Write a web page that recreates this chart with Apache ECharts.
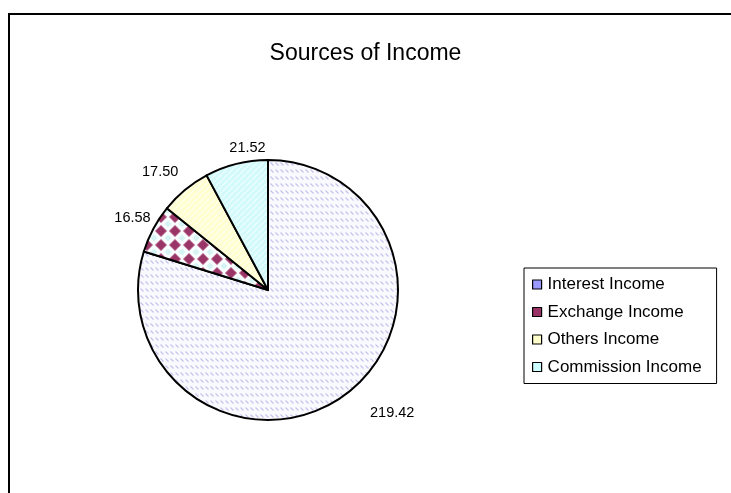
<!DOCTYPE html>
<html>
<head>
<meta charset="utf-8">
<title>Sources of Income</title>
<script src="https://cdn.jsdelivr.net/npm/echarts@6/dist/echarts.min.js"></script>
<style>
  html, body { margin: 0; padding: 0; background: #fff; }
  #chart { width: 731px; height: 493px; }
</style>
</head>
<body>
<div id="chart"></div>
<script>
// Income sources and amounts
const categories = ['Interest Income', 'Exchange Income', 'Others Income', 'Commission Income'];
const values = [219.42, 16.58, 17.50, 21.52];

// Solid swatch colours used by the legend
const swatchColors = ['#9999ff', '#993366', '#ffffcc', '#ccffff'];

// Extra pixel shift applied to each value label after the radial placement
const labelNudge = [[28, 4], [4, -3], [-7, -4], [18, 1]];

function tile(w, h, draw) {
  const c = document.createElement('canvas');
  c.width = w; c.height = h;
  const ctx = c.getContext('2d');
  draw(ctx, w, h);
  return c;
}

function diamond(ctx, x, y, r) {
  ctx.beginPath();
  ctx.moveTo(x, y - r); ctx.lineTo(x + r, y);
  ctx.lineTo(x, y + r); ctx.lineTo(x - r, y); ctx.closePath(); ctx.fill();
}

// Fill patterns for the slices
const patterns = [
  // rows of short "\" dashes in lavender
  tile(5, 7, function (ctx, w, h) {
    ctx.fillStyle = '#fafafe'; ctx.fillRect(0, 0, w, h);
    ctx.strokeStyle = '#c2c2ec'; ctx.lineWidth = 1.1;
    ctx.beginPath(); ctx.moveTo(0.5, 1.5); ctx.lineTo(3.5, 4.5); ctx.stroke();
  }),
  // maroon diamonds on white with pale cyan between
  tile(14, 14, function (ctx, w, h) {
    ctx.fillStyle = '#f8fdfd'; ctx.fillRect(0, 0, w, h);
    ctx.fillStyle = '#d6f3f3';
    [[0, 0], [w, 0], [0, h], [w, h]].forEach(function (p) { diamond(ctx, p[0], p[1], 3.5); });
    ctx.fillStyle = '#c98aa6';
    diamond(ctx, 7, 7, 6.3);
    ctx.fillStyle = '#9a3567';
    diamond(ctx, 7, 7, 5.2);
  }),
  // pale yellow with faint "/" stripes
  tile(6, 6, function (ctx, w, h) {
    ctx.fillStyle = '#ffffcf'; ctx.fillRect(0, 0, w, h);
    ctx.strokeStyle = '#ffffec'; ctx.lineWidth = 1.5;
    ctx.beginPath(); ctx.moveTo(-1, 7); ctx.lineTo(7, -1); ctx.stroke();
  }),
  // pale cyan with faint "/" stripes
  tile(6, 6, function (ctx, w, h) {
    ctx.fillStyle = '#d2fafa'; ctx.fillRect(0, 0, w, h);
    ctx.strokeStyle = '#ebfdfd'; ctx.lineWidth = 1.5;
    ctx.beginPath(); ctx.moveTo(-1, 7); ctx.lineTo(7, -1); ctx.stroke();
  })
];

const chart = echarts.init(document.getElementById('chart'), null, { renderer: 'canvas' });

const FONT = '"Liberation Sans", Arial, Helvetica, sans-serif';

chart.setOption({
  animation: false,
  backgroundColor: '#ffffff',
  title: {
    text: 'Sources of Income',
    left: 'center',
    top: 37,
    textStyle: { fontFamily: FONT, fontSize: 23, fontWeight: 'normal', color: '#000' }
  },
  graphic: [{
    type: 'rect',
    shape: { x: 9, y: 14, width: 760, height: 520 },
    style: { fill: null, stroke: '#000', lineWidth: 2 },
    silent: true,
    z: 100
  }],
  legend: {
    orient: 'vertical',
    left: 524,
    top: 268,
    padding: [8, 15, 8, 8],
    itemGap: 10.5,
    itemWidth: 9,
    itemHeight: 9,
    icon: 'rect',
    borderColor: '#000',
    borderWidth: 1,
    selectedMode: false,
    textStyle: { fontFamily: FONT, fontSize: 17, color: '#000', padding: [0, 0, 0, 1] },
    data: categories.map(function (name, i) {
      return { name: name, itemStyle: { color: swatchColors[i], borderColor: '#000', borderWidth: 1.2 } };
    })
  },
  series: [{
    type: 'pie',
    center: [268, 290],
    radius: 130,
    startAngle: 90,
    clockwise: true,
    avoidLabelOverlap: false,
    emphasis: { disabled: true },
    itemStyle: { borderColor: '#000', borderWidth: 2 },
    label: {
      show: true,
      position: 'outside',
      formatter: function (p) { return p.value.toFixed(2); },
      fontFamily: FONT,
      fontSize: 14.5,
      color: '#000'
    },
    labelLine: { show: true, length: 10, length2: 0, lineStyle: { opacity: 0 } },
    labelLayout: function (p) {
      const pts = p.labelLinePoints;
      if (!pts) return {};
      const a = pts[0], b = pts[1];
      const dx = b[0] - a[0], dy = b[1] - a[1];
      const len = Math.hypot(dx, dy) || 1;
      const ux = dx / len, uy = dy / len;
      const w = p.labelRect.width, h = p.labelRect.height;
      const n = labelNudge[p.dataIndex] || [0, 0];
      return {
        x: b[0] + ux * w / 2 + n[0],
        y: b[1] + uy * h / 2 + n[1],
        align: 'center',
        verticalAlign: 'middle'
      };
    },
    data: categories.map(function (name, i) {
      return { name: name, value: values[i], itemStyle: { color: { image: patterns[i], repeat: 'repeat' } } };
    })
  }]
});
</script>
</body>
</html>
